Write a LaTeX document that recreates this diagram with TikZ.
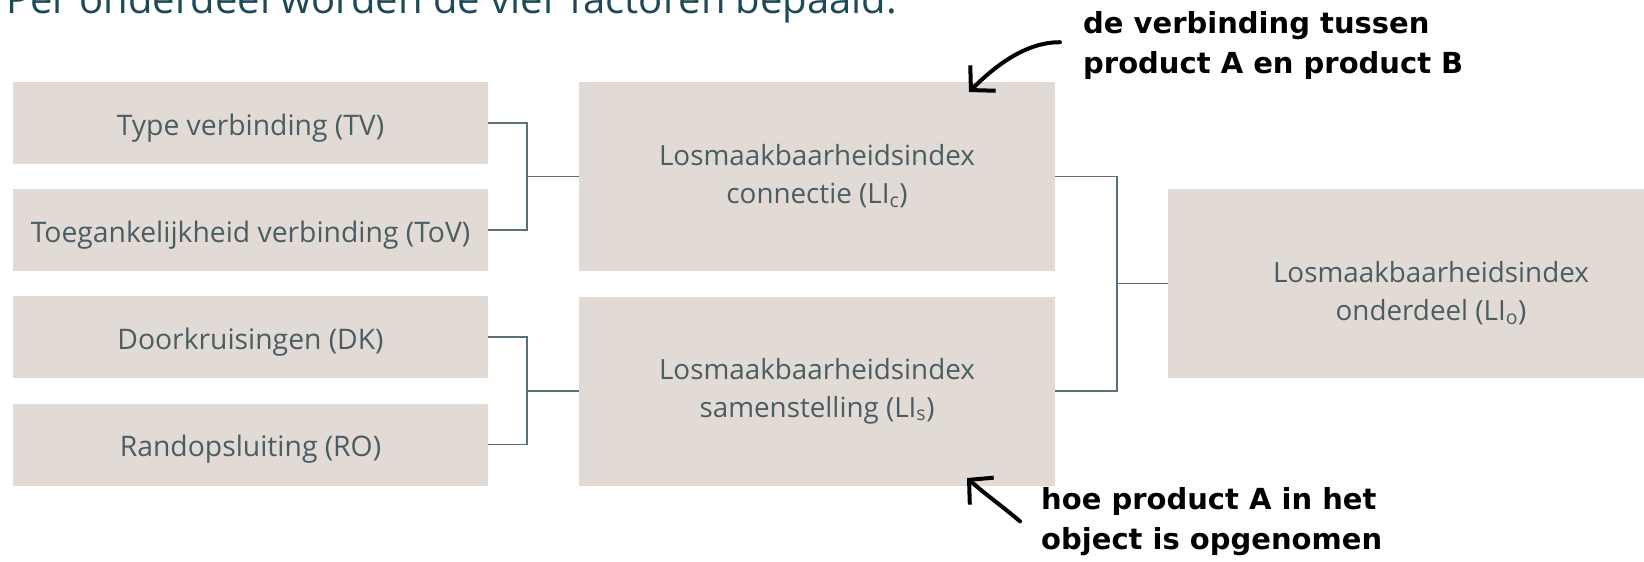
\documentclass[tikz,border=0pt]{standalone}
\usepackage{fontspec}
\setmainfont{Open Sans}
\newfontfamily\handfont{DejaVu Sans}
\usetikzlibrary{arrows.meta}

\definecolor{vakkleur}{HTML}{E1DAD5}
\definecolor{tekstkleur}{HTML}{4B5D63}
\definecolor{lijnkleur}{HTML}{5A717A}
\definecolor{titelkleur}{HTML}{1E4A58}

\tikzset{
  vak/.style={fill=vakkleur, inner sep=0pt, text=tekstkleur, align=center,
    font=\fontsize{27.8}{38}\selectfont},
  klein/.style={vak, minimum width=475pt, minimum height=82pt,
    font=\fontsize{28.3}{38}\selectfont, text height=24.5pt, text depth=0pt},
  groot/.style={vak, minimum width=476pt, minimum height=189pt},
  lijn/.style={draw=lijnkleur, line width=1.8pt},
  notitie/.style={anchor=north west, align=left, inner sep=0pt,
    font=\handfont\bfseries\fontsize{29}{40}\selectfont},
  pijl/.style={-{Straight Barb[length=17pt,width=36pt]}, line width=4pt, line cap=round}
}

\begin{document}
\begin{tikzpicture}[x=1pt,y=-1pt]
\useasboundingbox (0,0) rectangle (1644,562);
%titel (valt deels buiten beeld)
\node[anchor=base west, inner sep=0pt, text=titelkleur,
  font=\fontsize{40}{48}\selectfont] (titel) at (6,13)
  {Per onderdeel worden de vier factoren bepaald.};
%factoren
\node[klein] (tv)  at (250.5,123)   {Type verbinding (TV)};
\node[klein] (tov) at (250.5,230)   {Toegankelijkheid verbinding (ToV)};
\node[klein] (dk)  at (250.5,337)   {Doorkruisingen (DK)};
\node[klein] (ro)  at (250.5,444.5) {Randopsluiting (RO)};
%indexen
\node[groot] (lic) at (817,176.5) {Losmaakbaarheidsindex\\connectie (LI\textsubscript{c})};
\node[groot] (lis) at (817,391)   {Losmaakbaarheidsindex\\samenstelling (LI\textsubscript{s})};
\node[groot, minimum width=526pt] (lio) at (1431,283.5)
  {\rule{0pt}{40pt}Losmaakbaarheidsindex\\onderdeel (LI\textsubscript{o})};
%verbindingslijnen
\coordinate (jc) at (527,176.5);
\coordinate (js) at (527,391);
\coordinate (jo) at (1117,283.5);
\draw[lijn] (tv.east) -| (jc) |- (tov.east);
\draw[lijn] (jc) -- (lic.west);
\draw[lijn] (dk.east) -| (js) |- (ro.east);
\draw[lijn] (js) -- (lis.west);
\draw[lijn] (lic.east) -| (jo) |- (lis.east);
\draw[lijn] (jo) -- (lio.west);
%toelichting met pijlen
\node[notitie] (notec) at (1083,11) {de verbinding tussen\\product A en product B};
\node[notitie] (notes) at (1041,487) {hoe product A in het\\object is opgenomen};
\coordinate (pijlc) at (969,92);
\coordinate (pijls) at (967,478);
\draw[pijl] ([xshift=-23pt,yshift=3pt]notec.west) .. controls (1025,42) and (994,67) .. (pijlc);
\draw[pijl] ([xshift=-21pt]notes.west) .. controls (1002,506) and (985,494) .. (pijls);
\end{tikzpicture}
\end{document}
